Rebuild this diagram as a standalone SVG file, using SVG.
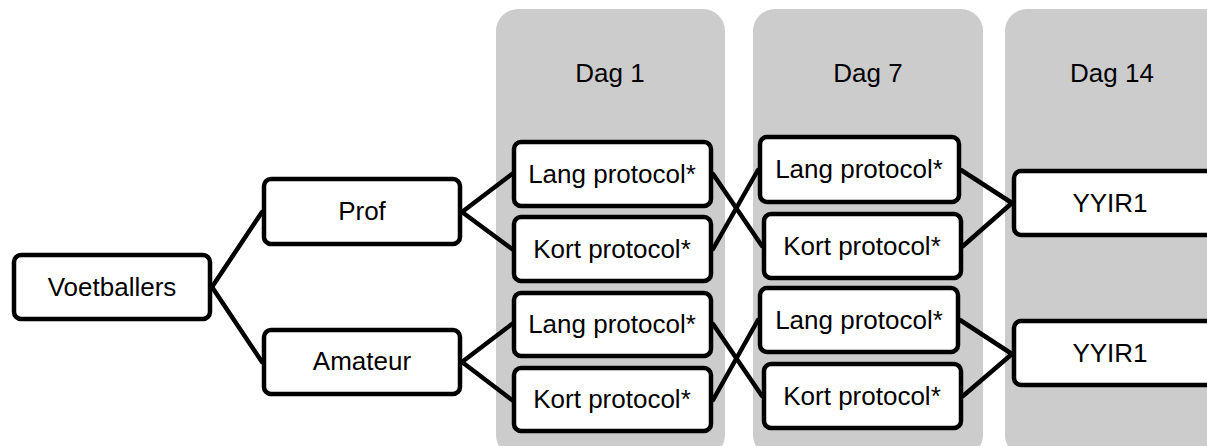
<svg xmlns="http://www.w3.org/2000/svg" width="1207" height="446" viewBox="0 0 1207 446">
<style>
.panel{fill:#cccccc;stroke:none}
.node rect{fill:#ffffff;stroke:#000000;stroke-width:4.5}
text{font-family:"Liberation Sans",Arial,sans-serif;font-size:26px;fill:#000000;text-anchor:middle}
#connectors line{stroke:#000000;stroke-width:4.5;stroke-linecap:round}
</style>
<g id="panels">
<rect class="panel" x="496" y="9" width="229" height="448" rx="22"/>
<rect class="panel" x="753" y="9" width="230" height="448" rx="22"/>
<rect class="panel" x="1005" y="9" width="240" height="448" rx="22"/>
<text x="610" y="82">Dag 1</text>
<text x="868" y="82">Dag 7</text>
<text x="1112" y="82">Dag 14</text>
</g>
<g id="connectors">
<line x1="212" y1="287" x2="262" y2="212"/>
<line x1="212" y1="287" x2="262" y2="362"/>
<line x1="462" y1="212" x2="512" y2="174"/>
<line x1="462" y1="212" x2="512" y2="249"/>
<line x1="462" y1="362" x2="512" y2="324"/>
<line x1="462" y1="362" x2="512" y2="400"/>
<line x1="713" y1="174" x2="762" y2="246"/>
<line x1="713" y1="249" x2="758" y2="170"/>
<line x1="713" y1="324" x2="762" y2="396"/>
<line x1="713" y1="400" x2="758" y2="320"/>
<line x1="961" y1="170" x2="1012" y2="203"/>
<line x1="963" y1="246" x2="1012" y2="203"/>
<line x1="960" y1="320" x2="1012" y2="354"/>
<line x1="963" y1="396" x2="1012" y2="354"/>
</g>
<g id="voetballers" class="node"><rect x="14" y="255" width="196" height="64" rx="7"/><text x="112" y="296">Voetballers</text></g>
<g id="prof" class="node"><rect x="264" y="179" width="196" height="65" rx="7"/><text x="362" y="220">Prof</text></g>
<g id="amateur" class="node"><rect x="264" y="330" width="196" height="64" rx="7"/><text x="362" y="370">Amateur</text></g>
<g id="d1-prof-lang" class="node"><rect x="514" y="142" width="197" height="64" rx="7"/><text x="612" y="183">Lang protocol*</text></g>
<g id="d1-prof-kort" class="node"><rect x="514" y="217" width="197" height="64" rx="7"/><text x="612" y="258">Kort protocol*</text></g>
<g id="d1-am-lang" class="node"><rect x="514" y="293" width="197" height="63" rx="7"/><text x="612" y="333">Lang protocol*</text></g>
<g id="d1-am-kort" class="node"><rect x="514" y="368" width="197" height="63" rx="7"/><text x="612" y="408">Kort protocol*</text></g>
<g id="d7-prof-lang" class="node"><rect x="760" y="137" width="199" height="65" rx="7"/><text x="859" y="178">Lang protocol*</text></g>
<g id="d7-prof-kort" class="node"><rect x="764" y="214" width="197" height="64" rx="7"/><text x="862" y="255">Kort protocol*</text></g>
<g id="d7-am-lang" class="node"><rect x="760" y="288" width="198" height="64" rx="7"/><text x="859" y="329">Lang protocol*</text></g>
<g id="d7-am-kort" class="node"><rect x="764" y="364" width="197" height="64" rx="7"/><text x="862" y="405">Kort protocol*</text></g>
<g id="d14-prof" class="node"><rect x="1014" y="171" width="210" height="64" rx="7"/><text x="1110" y="212">YYIR1</text></g>
<g id="d14-am" class="node"><rect x="1014" y="321" width="210" height="64" rx="7"/><text x="1110" y="362">YYIR1</text></g>
</svg>
